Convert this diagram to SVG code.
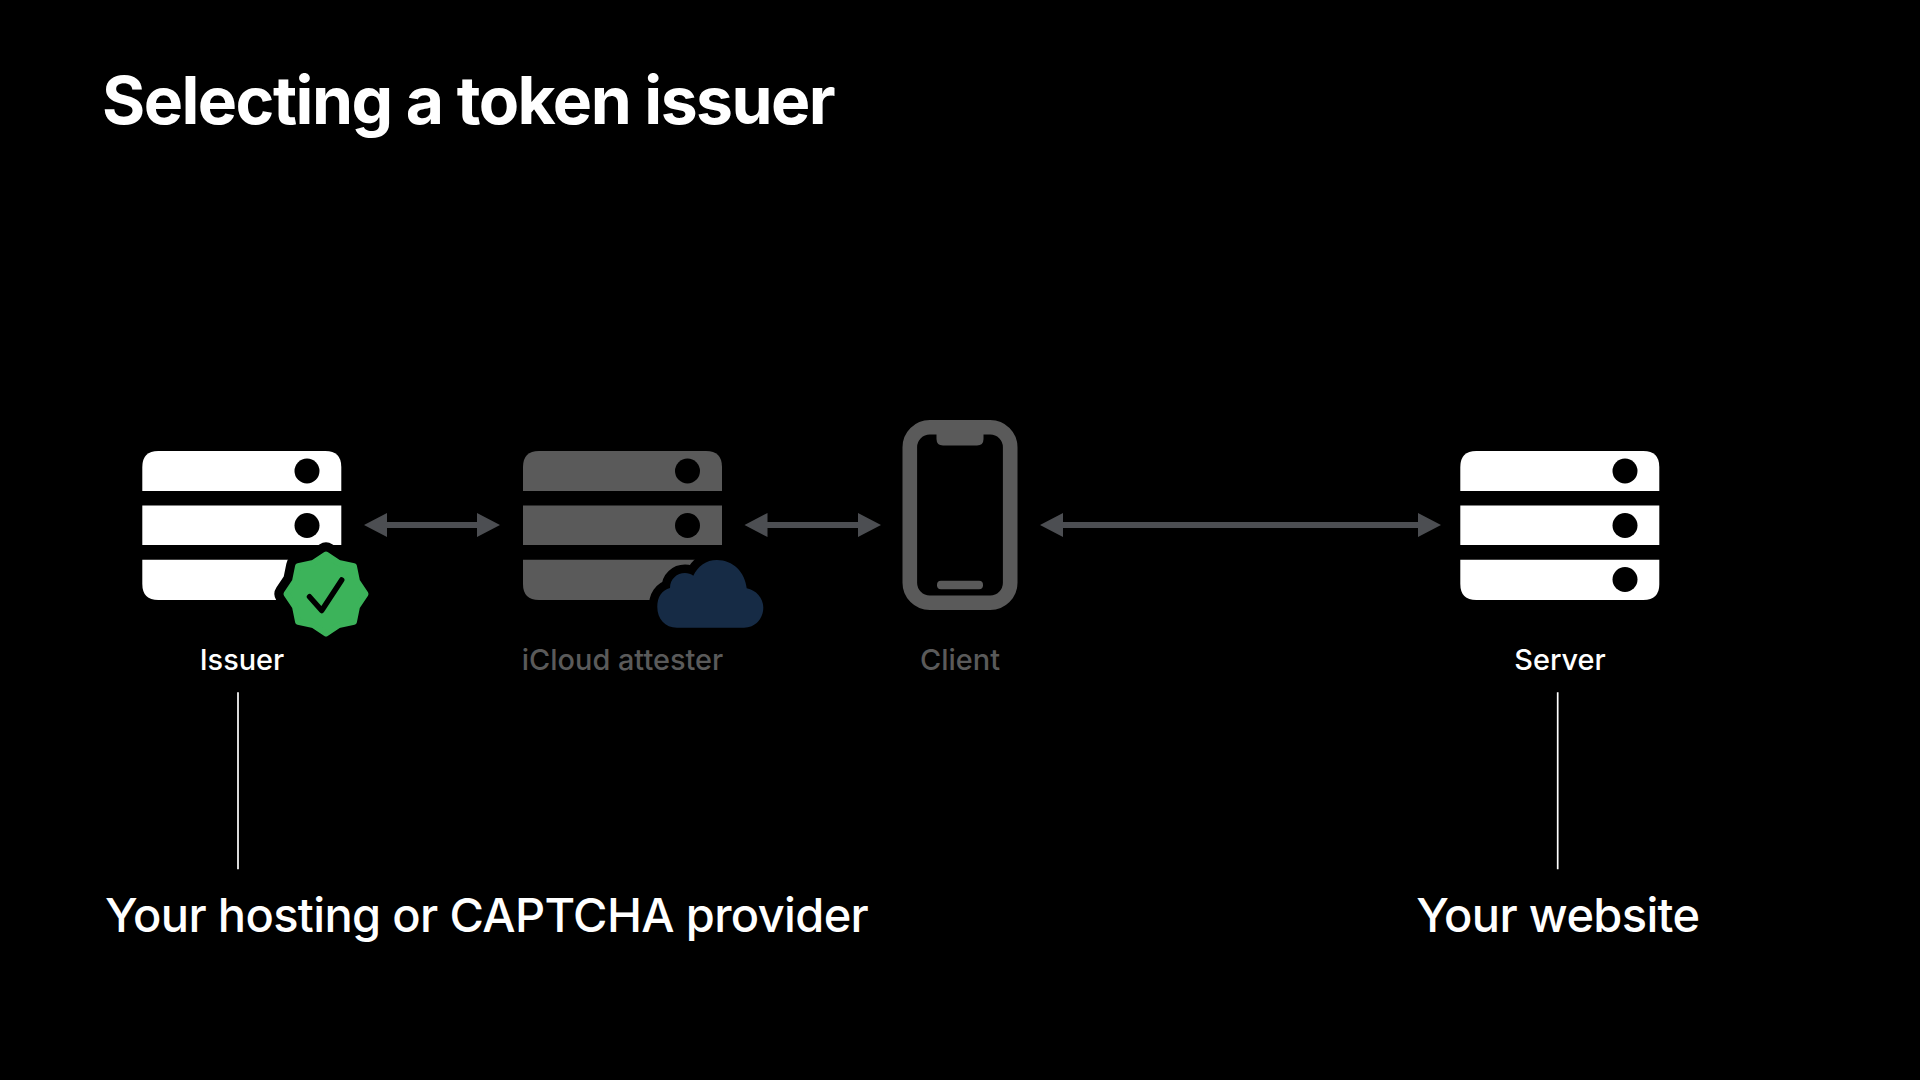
<svg xmlns="http://www.w3.org/2000/svg" width="1920" height="1080" viewBox="0 0 1920 1080">
<style>
text{font-family:Inter,"Liberation Sans",sans-serif;text-anchor:middle}
.title{font-size:66px;font-weight:700;fill:#fff;text-anchor:start;letter-spacing:-1.530px}
.lbl{font-size:28.900px;font-weight:500}
.big{font-size:47px;font-weight:500;fill:#fff;letter-spacing:-0.650px}
.w{fill:#fff}.d{fill:#5a5a5a}
.hole{fill:#000}
.conn{stroke:#4c4e52;stroke-width:6;fill:none}
.head{fill:#4c4e52}
.rule{stroke:#fff;stroke-width:1.700}
</style>
<defs>
<g id="srv">
<path d="M0 40V16Q0 0 16 0H183Q199 0 199 16V40Z"/>
<rect x="0" y="54.500" width="199" height="39.500"/>
<path d="M0 108.700H199V133Q199 149 183 149H16Q0 149 0 133Z"/>
</g>
<path id="star" d="M326 554.500L338.800 563.050L353.900 566.070L356.950 581.200L365.500 594L356.950 606.800L353.900 621.900L338.800 624.950L326 633.500L313.200 624.950L298.100 621.900L295.050 606.800L286.500 594L295.050 581.200L298.100 566.070L313.200 563.050Z" stroke-linejoin="round"/>
<path id="cloud" d="M677 627.700C665 627.700 657.300 619 657.300 607C657.300 597 662 590 670 588C670 579 677 573 685 573C688 573 691 574 693.300 575.700C698 566 706 560 717 560C733 560 745 572 746.700 588.300C756 590 763.300 598 763.300 607.500C763.300 619 755 627.700 744 627.700Z" stroke-linejoin="round"/>
</defs>
<rect width="1920" height="1080" fill="#000"/>
<text class="title" x="102" y="124">Selecting a token issuer</text>
<g id="connectors">
<path class="conn" d="M385 525H479M766 525H860M1062 525H1420"/>
<path class="head" d="M364 525L387 513V537ZM500 525L477 513V537ZM744.500 525L767.500 513V537ZM881 525L858 513V537ZM1040 525L1063 513V537ZM1441 525L1418 513V537Z"/>
<path class="rule" d="M238 692.300V869.300M1557.700 692.300V869.300"/>
</g>
<g id="issuer">
<use href="#srv" x="142.300" y="451" class="w"/>
<circle class="hole" cx="307" cy="471" r="12.500"/>
<circle class="hole" cx="307" cy="525.500" r="12.500"/>
<use href="#star" fill="#000" stroke="#000" stroke-width="24"/>
<use href="#star" fill="#3cb35a" stroke="#3cb35a" stroke-width="6"/>
<path fill="none" stroke="#000" stroke-width="5.500" stroke-linecap="round" stroke-linejoin="round" d="M309.500 596.700L321.700 610.500L341.700 580"/>
<text class="lbl" x="242" y="669.500" fill="#fff">Issuer</text>
</g>
<g id="icloud-attester">
<use href="#srv" x="523" y="451" class="d"/>
<circle class="hole" cx="687.500" cy="471" r="12.500"/>
<circle class="hole" cx="687.500" cy="525.500" r="12.500"/>
<use href="#cloud" fill="#000" stroke="#000" stroke-width="17"/>
<use href="#cloud" fill="#162b45"/>
<text class="lbl" x="622.500" y="669.500" fill="#5a5a5a">iCloud attester</text>
</g>
<g id="client">
<rect x="909.800" y="427.300" width="100.400" height="175.400" rx="20" fill="none" stroke="#5a5a5a" stroke-width="14.600"/>
<path class="d" d="M936.500 434H983.500V439Q983.500 445.500 977 445.500H943Q936.500 445.500 936.500 439Z"/>
<rect class="d" x="937" y="580.700" width="46" height="8.500" rx="4"/>
<text class="lbl" x="960" y="669.500" fill="#5a5a5a">Client</text>
</g>
<g id="server">
<use href="#srv" x="1460.300" y="451" class="w"/>
<circle class="hole" cx="1625" cy="471" r="12.500"/>
<circle class="hole" cx="1625" cy="525.500" r="12.500"/>
<circle class="hole" cx="1625" cy="579.500" r="12.500"/>
<text class="lbl" x="1560" y="669.500" fill="#fff">Server</text>
</g>
<text class="big" x="486.600" y="931.500">Your hosting or CAPTCHA provider</text>
<text class="big" x="1557.800" y="931.500">Your website</text>
</svg>
